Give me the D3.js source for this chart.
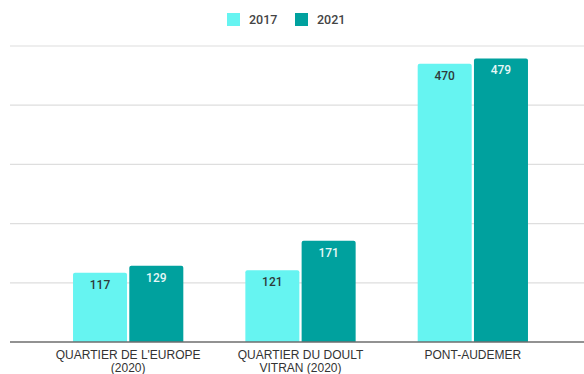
<!DOCTYPE html>
<html>
<head>
<meta charset="utf-8">
<script src="https://cdn.jsdelivr.net/npm/d3@7"></script>
<style>
  html, body { margin: 0; padding: 0; background: #fff; }
  svg { display: block; font-family: Roboto, "Liberation Sans", Arial, sans-serif; }
</style>
</head>
<body>
<svg id="chart" width="584" height="374"></svg>
<script>
// Data
const categories = [["QUARTIER DE L'EUROPE", "(2020)"], ["QUARTIER DU DOULT", "VITRAN (2020)"], ["PONT-AUDEMER"]];
const seriesNames = ["2017", "2021"];
const values2017 = [117, 121, 470];
const values2021 = [129, 171, 479];
const yTicks = [0, 100, 200, 300, 400, 500];

const colors = { "2017": "#66f4f1", "2021": "#00a19e" };
const labelColors = { "2017": "#2f3b3b", "2021": "#e6f7f6" };

const W = 584, H = 374;
const margin = { left: 42, right: 25, top: 46, bottom: 32 };
const svg = d3.select("#chart");

const x0 = d3.scaleBand()
  .domain(d3.range(categories.length))
  .range([margin.left, W - margin.right])
  .paddingInner(0.36)
  .paddingOuter(0.18);

const x1 = d3.scaleBand()
  .domain(seriesNames)
  .range([0, x0.bandwidth()])
  .paddingInner(0.04);

const y = d3.scaleLinear()
  .domain([0, 500])
  .range([H - margin.bottom, margin.top]);

// Gridlines
svg.append("g")
  .selectAll("line")
  .data(yTicks.filter(d => d > 0))
  .join("line")
  .attr("x1", 10).attr("x2", W)
  .attr("y1", d => y(d)).attr("y2", d => y(d))
  .attr("stroke", "#dedede")
  .attr("stroke-width", 1.2);

// Bars
const rows = categories.map((c, i) => ({
  i,
  vals: [{ s: "2017", v: values2017[i] }, { s: "2021", v: values2021[i] }]
}));

const groups = svg.append("g").selectAll("g")
  .data(rows)
  .join("g")
  .attr("transform", d => `translate(${x0(d.i)},0)`);

groups.selectAll("path")
  .data(d => d.vals)
  .join("path")
  .attr("fill", d => colors[d.s])
  .attr("d", d => {
    const xa = x1(d.s), w = x1.bandwidth(), yt = y(d.v), yb = y(0), r = 2;
    return `M${xa},${yb}V${yt + r}Q${xa},${yt} ${xa + r},${yt}H${xa + w - r}Q${xa + w},${yt} ${xa + w},${yt + r}V${yb}Z`;
  });

groups.selectAll("text")
  .data(d => d.vals)
  .join("text")
  .attr("x", d => x1(d.s) + x1.bandwidth() / 2)
  .attr("y", d => y(d.v) + 16)
  .attr("text-anchor", "middle")
  .attr("font-size", 12)
  .attr("font-weight", 500)
  .attr("fill", d => labelColors[d.s])
  .text(d => d.v);

// Baseline
svg.append("line")
  .attr("x1", 10).attr("x2", W)
  .attr("y1", y(0)).attr("y2", y(0))
  .attr("stroke", "#6e6e6e")
  .attr("stroke-width", 1.5);

// Category labels
const xAxis = svg.append("g");
categories.forEach((lines, i) => {
  const t = xAxis.append("text")
    .attr("x", x0(i) + x0.bandwidth() / 2)
    .attr("y", y(0) + 17)
    .attr("text-anchor", "middle")
    .attr("font-family", "'Liberation Sans', Arial, sans-serif")
    .attr("font-size", 12)
    .attr("fill", "#333");
  lines.forEach((ln, k) => {
    t.append("tspan")
      .attr("x", x0(i) + x0.bandwidth() / 2)
      .attr("dy", k === 0 ? 0 : 12.5)
      .text(ln);
  });
});

// Legend
const legend = svg.append("g");
const legendX = [227, 295];
seriesNames.forEach((s, k) => {
  legend.append("rect")
    .attr("x", legendX[k]).attr("y", 13)
    .attr("width", 13).attr("height", 13)
    .attr("fill", colors[s]);
  legend.append("text")
    .attr("x", legendX[k] + 22).attr("y", 24)
    .attr("font-size", 12.5)
    .attr("font-weight", 500)
    .attr("fill", "#444")
    .text(s);
});
</script>
</body>
</html>
